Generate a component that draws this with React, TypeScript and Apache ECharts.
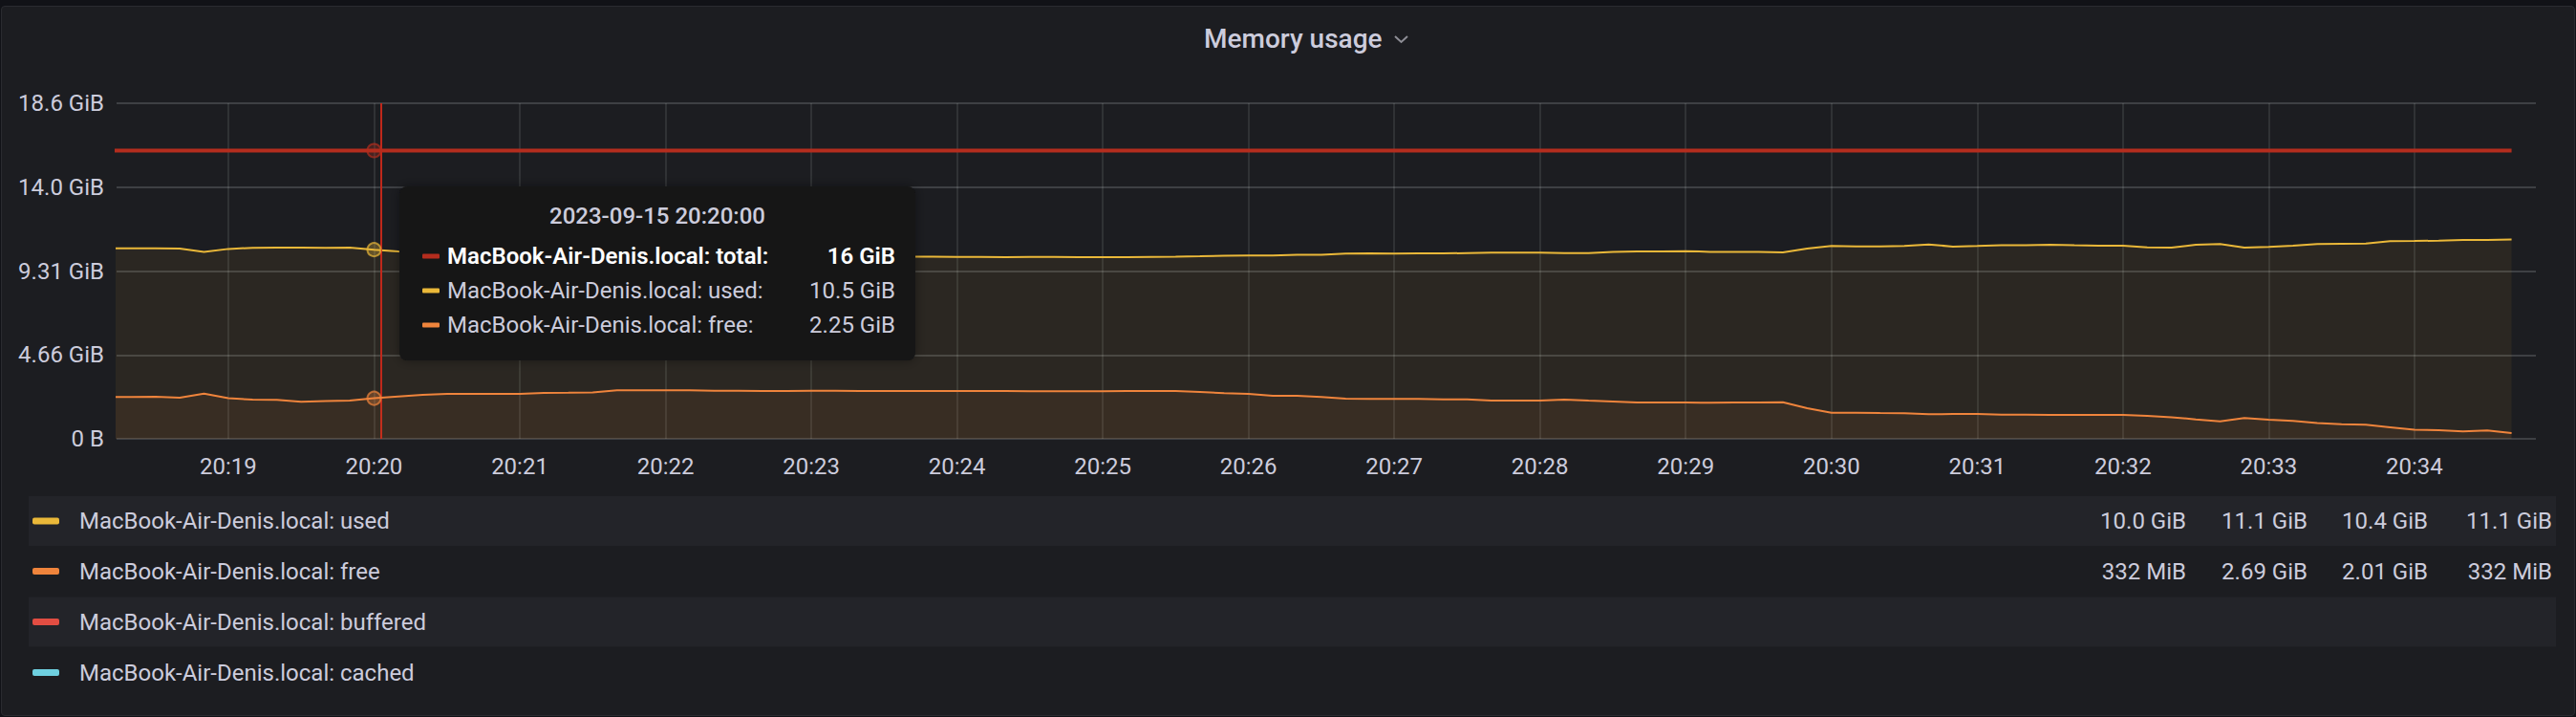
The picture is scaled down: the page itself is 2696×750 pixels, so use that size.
import React, { useEffect, useRef } from "react";
import * as echarts from "echarts";

const GiB = 1073741824;
const startTime = Date.UTC(2023, 8, 15, 20, 18, 10);
const stepMs = 10000;
const xMin = Date.UTC(2023, 8, 15, 20, 18, 14);
const xMax = Date.UTC(2023, 8, 15, 20, 34, 50);
const cursorTime = Date.UTC(2023, 8, 15, 20, 20, 3);
const hoverIndex = 11; // 20:20:00
const tooltipTitle = "2023-09-15 20:20:00";

const usedGiB = [
  10.58, 10.58, 10.58, 10.56, 10.37, 10.54, 10.6, 10.61, 10.61, 10.6,
  10.61, 10.5, 10.4, 10.37, 10.33, 10.29, 10.26, 10.22, 10.21, 10.2,
  10.16, 10.13, 10.11, 10.08, 10.05, 10.03, 10.01, 10.01, 10.03, 10.05,
  10.08, 10.08, 10.1, 10.11, 10.11, 10.1, 10.1, 10.08, 10.1, 10.1,
  10.08, 10.08, 10.08, 10.1, 10.11, 10.13, 10.16, 10.18, 10.18, 10.22,
  10.21, 10.28, 10.29, 10.28, 10.29, 10.29, 10.31, 10.33, 10.33, 10.33,
  10.31, 10.31, 10.37, 10.4, 10.4, 10.42, 10.38, 10.38, 10.38, 10.35,
  10.56, 10.7, 10.68, 10.68, 10.7, 10.79, 10.67, 10.7, 10.74, 10.74,
  10.77, 10.74, 10.72, 10.72, 10.63, 10.61, 10.77, 10.81, 10.61, 10.65,
  10.72, 10.81, 10.83, 10.84, 10.97, 10.98, 11.0, 11.04, 11.04, 11.07,
];

const freeGiB = [
  2.32, 2.32, 2.33, 2.28, 2.51, 2.25, 2.18, 2.16, 2.05, 2.1,
  2.12, 2.25, 2.35, 2.44, 2.49, 2.49, 2.49, 2.49, 2.55, 2.56,
  2.58, 2.69, 2.69, 2.69, 2.69, 2.67, 2.67, 2.65, 2.65, 2.67,
  2.67, 2.65, 2.65, 2.65, 2.65, 2.65, 2.65, 2.65, 2.64, 2.64,
  2.64, 2.64, 2.65, 2.65, 2.65, 2.6, 2.53, 2.49, 2.39, 2.39,
  2.32, 2.23, 2.21, 2.21, 2.21, 2.19, 2.19, 2.12, 2.12, 2.12,
  2.18, 2.12, 2.07, 2.02, 2.02, 2.02, 2.0, 2.02, 2.02, 2.03,
  1.7, 1.45, 1.45, 1.43, 1.42, 1.36, 1.38, 1.38, 1.34, 1.34,
  1.33, 1.33, 1.33, 1.33, 1.27, 1.2, 1.08, 0.97, 1.15, 1.06,
  0.99, 0.88, 0.81, 0.78, 0.64, 0.5, 0.48, 0.41, 0.46, 0.324,
];

const totalGiB = [
  16, 16, 16, 16, 16, 16, 16, 16, 16, 16,
  16, 16, 16, 16, 16, 16, 16, 16, 16, 16,
  16, 16, 16, 16, 16, 16, 16, 16, 16, 16,
  16, 16, 16, 16, 16, 16, 16, 16, 16, 16,
  16, 16, 16, 16, 16, 16, 16, 16, 16, 16,
  16, 16, 16, 16, 16, 16, 16, 16, 16, 16,
  16, 16, 16, 16, 16, 16, 16, 16, 16, 16,
  16, 16, 16, 16, 16, 16, 16, 16, 16, 16,
  16, 16, 16, 16, 16, 16, 16, 16, 16, 16,
  16, 16, 16, 16, 16, 16, 16, 16, 16, 16,
];

const seriesNames = [
  "MacBook-Air-Denis.local: total",
  "MacBook-Air-Denis.local: used",
  "MacBook-Air-Denis.local: free",
];
const seriesColors = ["#B42D1E", "#EAB839", "#EF843C"];

const legendNames = [
  "MacBook-Air-Denis.local: used",
  "MacBook-Air-Denis.local: free",
  "MacBook-Air-Denis.local: buffered",
  "MacBook-Air-Denis.local: cached",
];
const legendColors = ["#EAB839", "#EF843C", "#E24D42", "#6ED0E0"];
const legendStats = [
  ["10.0 GiB", "11.1 GiB", "10.4 GiB", "11.1 GiB"],
  ["332 MiB", "2.69 GiB", "2.01 GiB", "332 MiB"],
  [],
  [],
];

const TEXT = "#ccccdc";
const FONT = "Roboto";

function pad(n: number) {
  return n < 10 ? "0" + n : "" + n;
}
function fmtGiB(v: number) {
  if (Number.isInteger(v)) return v + " GiB";
  return v.toPrecision(3) + " GiB";
}
function fmtTick(bytes: number) {
  if (bytes === 0) return "0 B";
  return (bytes / GiB).toPrecision(3) + " GiB";
}

export default function App() {
  const ref = useRef<HTMLDivElement>(null);
  useEffect(() => {
    if (!ref.current) return;
    const chart = echarts.init(ref.current, null, { renderer: "svg" });
    const times = usedGiB.map((_, i) => startTime + i * stepMs);
    const seriesData = [totalGiB, usedGiB, freeGiB];

    const series: any[] = seriesData.map((arr, si) => {
      const color = seriesColors[si];
      const s: any = {
        name: seriesNames[si],
        type: "line",
        data: arr.map((v, i) => [times[i], v * GiB]),
        symbol: "none",
        showSymbol: false,
        lineStyle: { color, width: si === 0 ? 4 : 2 },
        itemStyle: { color },
        z: 3 + si,
        markPoint: {
          silent: true,
          symbol: "circle",
          symbolSize: 14,
          label: { show: false },
          itemStyle: {
            color: echarts.color.modifyAlpha(color, 0.3),
            borderColor: echarts.color.modifyAlpha(color, 0.7),
            borderWidth: 2,
          },
          data: [{ coord: [times[hoverIndex], arr[hoverIndex] * GiB] }],
        },
      };
      if (si > 0) {
        s.areaStyle = { color: echarts.color.modifyAlpha(color, 0.1), origin: "start" };
      }
      if (si === 0) {
        s.markLine = {
          silent: true,
          symbol: ["none", "none"],
          label: { show: false },
          lineStyle: { color: "#C0281B", width: 2, type: "solid" },
          data: [{ xAxis: cursorTime }],
        };
      }
      return s;
    });

    const TZ = 100;
    const rowYs = [268, 304, 340];
    const tooltipChildren: any[] = [
      {
        type: "rect",
        z: TZ,
        shape: { x: 418, y: 195, width: 540, height: 182, r: 8 },
        style: { fill: "#141416", shadowBlur: 12, shadowColor: "rgba(0,0,0,0.4)" },
      },
      {
        type: "text",
        z: TZ + 1,
        x: 688,
        y: 226,
        style: {
          text: tooltipTitle,
          fill: TEXT,
          fontSize: 24,
          fontWeight: 500,
          fontFamily: FONT,
          textAlign: "center",
          textVerticalAlign: "middle",
          align: "center",
          verticalAlign: "middle",
        },
      },
    ];
    seriesNames.forEach((nm, i) => {
      const y = rowYs[i];
      const bold = i === 0;
      tooltipChildren.push({
        type: "rect",
        z: TZ + 1,
        shape: { x: 442, y: y - 2.5, width: 18, height: 5, r: 1 },
        style: { fill: seriesColors[i] },
      });
      tooltipChildren.push({
        type: "text",
        z: TZ + 1,
        x: 468,
        y,
        style: {
          text: nm + ":",
          fill: bold ? "#ffffff" : TEXT,
          fontSize: 24,
          fontWeight: bold ? 600 : "normal",
          fontFamily: FONT,
          textAlign: "left",
          textVerticalAlign: "middle",
          align: "left",
          verticalAlign: "middle",
        },
      });
      tooltipChildren.push({
        type: "text",
        z: TZ + 1,
        x: 937,
        y,
        style: {
          text: fmtGiB(seriesData[i][hoverIndex]),
          fill: bold ? "#ffffff" : TEXT,
          fontSize: 24,
          fontWeight: bold ? 600 : "normal",
          fontFamily: FONT,
          textAlign: "right",
          textVerticalAlign: "middle",
          align: "right",
          verticalAlign: "middle",
        },
      });
    });

    const legendRowCenters = [545, 597.5, 650.5, 703.5];
    const statRights = [2288, 2415, 2541, 2671];
    const legendChildren: any[] = [];
    legendNames.forEach((nm, i) => {
      const cy = legendRowCenters[i];
      if (i % 2 === 0) {
        legendChildren.push({
          type: "rect",
          shape: { x: 30, y: cy - 26, width: 2645, height: 52 },
          style: { fill: "#232429" },
        });
      }
      legendChildren.push({
        type: "rect",
        shape: { x: 34, y: cy - 3.5, width: 28, height: 7, r: 2 },
        style: { fill: legendColors[i] },
      });
      legendChildren.push({
        type: "text",
        x: 83,
        y: cy,
        style: {
          text: nm,
          fill: TEXT,
          fontSize: 24,
          fontFamily: FONT,
          textAlign: "left",
          textVerticalAlign: "middle",
          align: "left",
          verticalAlign: "middle",
        },
      });
      legendStats[i].forEach((st, k) => {
        legendChildren.push({
          type: "text",
          x: statRights[k],
          y: cy,
          style: {
            text: st,
            fill: TEXT,
            fontSize: 24,
            fontFamily: FONT,
            textAlign: "right",
            textVerticalAlign: "middle",
            align: "right",
            verticalAlign: "middle",
          },
        });
      });
    });

    const option: any = {
      animation: false,
      useUTC: true,
      backgroundColor: "transparent",
      textStyle: { fontFamily: FONT },
      grid: { left: 122, right: 42, top: 108, bottom: 291 },
      xAxis: {
        type: "time",
        min: xMin,
        max: xMax,
        minInterval: 60000,
        maxInterval: 60000,
        splitNumber: 17,
        axisLine: { show: false },
        axisTick: { show: false },
        axisLabel: {
          color: TEXT,
          fontSize: 24,
          fontFamily: FONT,
          margin: 17,
          hideOverlap: false,
          formatter: (v: number) => {
            if (v % 60000 !== 0) return "";
            const d = new Date(v);
            return pad(d.getUTCHours()) + ":" + pad(d.getUTCMinutes());
          },
        },
        splitLine: {
          show: true,
          showMinLine: false,
          showMaxLine: false,
          lineStyle: { color: "rgba(240,250,255,0.13)", width: 1.5 },
        },
      },
      yAxis: {
        type: "value",
        min: 0,
        max: 20e9,
        interval: 5e9,
        axisLine: { show: false },
        axisTick: { show: false },
        axisLabel: {
          color: TEXT,
          fontSize: 24,
          fontFamily: FONT,
          margin: 13,
          formatter: fmtTick,
        },
        splitLine: { lineStyle: { color: "rgba(240,250,255,0.16)", width: 2 } },
      },
      series,
      graphic: [
        {
          type: "text",
          x: 1260,
          y: 40,
          style: {
            text: "Memory usage",
            fill: TEXT,
            fontSize: 28,
            fontWeight: 500,
            fontFamily: FONT,
            textAlign: "left",
            textVerticalAlign: "middle",
            align: "left",
            verticalAlign: "middle",
          },
        },
        {
          type: "polyline",
          shape: { points: [[1460, 38], [1466.5, 44], [1473, 38]] },
          style: { stroke: "#8e8e96", lineWidth: 2, fill: null },
        },
        { type: "group", children: legendChildren },
        { type: "group", z: TZ, children: tooltipChildren },
      ],
    };
    chart.setOption(option);
    return () => chart.dispose();
  }, []);

  return (
    <div style={{ position: "fixed", left: 0, top: 0, width: 2696, height: 750, background: "#111217" }}>
      <div
        style={{
          position: "absolute",
          left: 1,
          top: 6,
          width: 2694,
          height: 743,
          boxSizing: "border-box",
          background: "#1c1d21",
          border: "1px solid #2a2b30",
          borderRadius: 4,
        }}
      />
      <div ref={ref} style={{ position: "absolute", left: 0, top: 0, width: 2696, height: 750 }} />
    </div>
  );
}
